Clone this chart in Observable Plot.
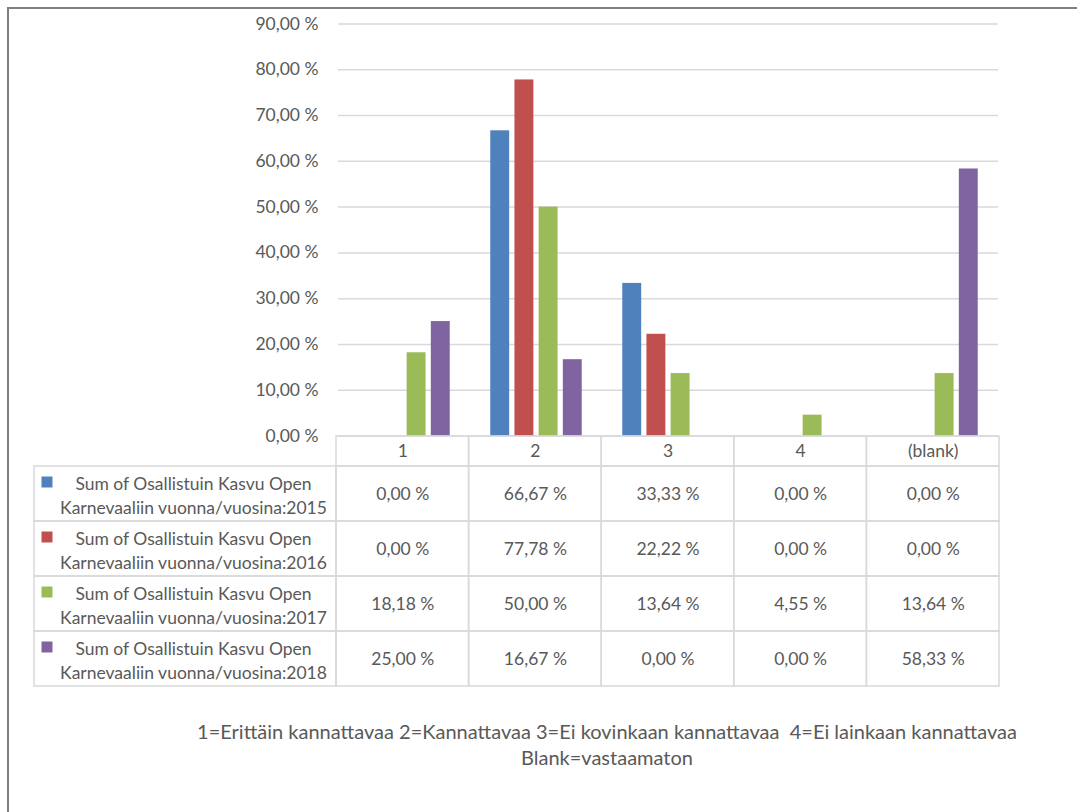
<!DOCTYPE html>
<html lang="fi">
<head>
<meta charset="utf-8">
<script src="https://cdn.jsdelivr.net/npm/d3@7"></script>
<script src="https://cdn.jsdelivr.net/npm/@observablehq/plot@0.6"></script>
<style>
  body { margin: 0; background: #fff; }
  #page { position: relative; width: 1077px; height: 812px; overflow: hidden; font-family: Lato, "Open Sans", sans-serif; color: #595959; }
  #frame { position: absolute; left: 7px; top: 7px; width: 1200px; height: 900px; border-left: 2px solid #7f7f7f; border-top: 2px solid #7f7f7f; }
  #chart { position: absolute; left: 0; top: 0; }
  #table { position: absolute; left: 0; top: 435px; }
  #caption { position: absolute; left: 107px; width: 1000px; top: 718px; text-align: center; font-size: 20px; line-height: 26px; }
  svg { overflow: visible; }
</style>
</head>
<body>
<div id="page">
  <div id="frame"></div>
  <div id="chart"></div>
  <div id="table"></div>
  <div id="caption">1=Erittäin kannattavaa 2=Kannattavaa 3=Ei kovinkaan kannattavaa&nbsp; 4=Ei lainkaan kannattavaa<br>Blank=vastaamaton</div>
</div>
<script>
// Answer categories (x axis)
const categories = ["1", "2", "3", "4", "(blank)"];

// Series: share of respondents per answer, by participation year
const seriesNames = [
  "Sum of Osallistuin Kasvu Open Karnevaaliin vuonna/vuosina:2015",
  "Sum of Osallistuin Kasvu Open Karnevaaliin vuonna/vuosina:2016",
  "Sum of Osallistuin Kasvu Open Karnevaaliin vuonna/vuosina:2017",
  "Sum of Osallistuin Kasvu Open Karnevaaliin vuonna/vuosina:2018"
];
const values2015 = [0.00, 66.67, 33.33, 0.00, 0.00];
const values2016 = [0.00, 77.78, 22.22, 0.00, 0.00];
const values2017 = [18.18, 50.00, 13.64, 4.55, 13.64];
const values2018 = [25.00, 16.67, 0.00, 0.00, 58.33];

// Y axis ticks (percent)
const yTicks = [0, 10, 20, 30, 40, 50, 60, 70, 80, 90];

const seriesColors = ["#4f81bd", "#c0504d", "#9bbb59", "#8064a2"];
const seriesValues = [values2015, values2016, values2017, values2018];

const rows = seriesNames.flatMap((name, j) =>
  categories.map((cat, i) => ({series: name, row: j, cat, col: i, value: seriesValues[j][i]}))
);

const pct = (v) => v.toFixed(2).replace(".", ",") + " %";
const font = "Lato, 'Open Sans', sans-serif";
const grid = "#d9d9d9";
const textColor = "#595959";

// Shared horizontal layout of the chart and the data table
const W = 1077, left = 336, right = 78;

// ---- Column chart ----
const chart = Plot.plot({
  width: W,
  height: 437,
  marginLeft: left,
  marginRight: right,
  marginTop: 23.5,
  marginBottom: 1.5,
  style: {fontFamily: font, fontSize: "17.5px", color: textColor, background: "transparent"},
  fx: {domain: categories, padding: 0, axis: null},
  x: {domain: seriesNames, paddingInner: 0.218, paddingOuter: 0.8375, round: false, axis: null},
  y: {domain: [0, 90], ticks: yTicks, tickFormat: pct, tickSize: 0, tickPadding: 20, label: null},
  color: {domain: seriesNames, range: seriesColors},
  marks: [
    Plot.ruleY(yTicks, {stroke: grid, strokeWidth: 1.5}),
    Plot.barY(rows.filter((d) => d.value > 0), {fx: "cat", x: "series", y: "value", fill: "series"})
  ]
});
document.getElementById("chart").append(chart);

// ---- Data table below the chart ----
const colPx = (W - left - right) / categories.length;   // width of one category column
const legendW = (left - 34) / colPx;                      // legend column width in column units
const H = 30 / 55;                                         // header row height relative to a body row

const headerCells = categories.map((cat, i) => ({x1: i, x2: i + 1, y1: 0, y2: H, cat}));
const bodyCells = rows.map((d) => ({x1: d.col, x2: d.col + 1, y1: H + d.row, y2: H + d.row + 1, text: pct(d.value)}));
const legendCells = seriesNames.map((name, j) => ({
  x1: -legendW, x2: 0, y1: H + j, y2: H + j + 1, name, j,
  label: name.replace(" Karnevaaliin", "\nKarnevaaliin")
}));

const table = Plot.plot({
  width: W,
  height: 252,
  marginLeft: left,
  marginRight: right,
  marginTop: 1,
  marginBottom: 1,
  style: {fontFamily: font, fontSize: "17.5px", color: textColor, background: "transparent"},
  x: {domain: [0, categories.length], axis: null},
  y: {domain: [0, H + seriesNames.length], reverse: true, axis: null},
  color: {domain: seriesNames, range: seriesColors},
  marks: [
    Plot.rect([...headerCells, ...bodyCells, ...legendCells], {x1: "x1", x2: "x2", y1: "y1", y2: "y2", fill: "none", stroke: grid, strokeWidth: 1.5}),
    Plot.text(headerCells, {x: (d) => (d.x1 + d.x2) / 2, y: H / 2, text: "cat", fill: textColor}),
    Plot.text(bodyCells, {x: (d) => (d.x1 + d.x2) / 2, y: (d) => (d.y1 + d.y2) / 2, text: "text", fill: textColor}),
    Plot.text(legendCells, {x: (d) => (d.x1 + d.x2) / 2, y: (d) => (d.y1 + d.y2) / 2, dx: 8, text: "label", lineHeight: 1.4, fill: textColor}),
    Plot.dot(legendCells, {x: (d) => d.x1, y: (d) => (d.y1 + d.y2) / 2, dx: 12.5, dy: -12, symbol: "square", r: 6.2, fill: "name"})
  ]
});
document.getElementById("table").append(table);
</script>
</body>
</html>
